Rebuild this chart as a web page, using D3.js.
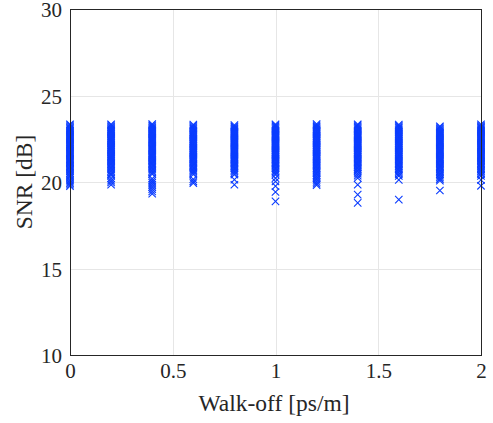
<!DOCTYPE html>
<html>
<head>
<meta charset="utf-8">
<script src="https://cdn.jsdelivr.net/npm/d3@7"></script>
<style>
  html, body { margin: 0; padding: 0; background: #fff; }
  svg { display: block; }
  text { font-family: "Liberation Serif", "Times New Roman", serif; fill: #262626; }
</style>
</head>
<body>
<svg id="chart" width="493" height="423"></svg>
<script>
// Walk-off values (ps/m) at which the SNR was evaluated
const walkOff = [0, 0.2, 0.4, 0.6, 0.8, 1.0, 1.2, 1.4, 1.6, 1.8, 2.0];

// SNR samples (dB) for each walk-off value
const snr00 = [23.34,23.27,23.20,23.13,23.06,22.99,22.93,22.86,22.80,22.73,22.66,22.60,22.53,22.47,22.40,22.33,22.27,22.20,22.14,22.07,22.00,21.94,21.87,21.81,21.74,21.67,21.61,21.54,21.48,21.41,21.34,21.28,21.21,21.15,21.08,21.01,20.93,20.86,20.78,20.70,20.61,20.53,20.44,20.35,20.25,20.12,20.02,19.93,19.85,19.76];
const snr02 = [23.34,23.27,23.20,23.14,23.07,23.01,22.94,22.88,22.81,22.75,22.68,22.62,22.55,22.49,22.42,22.36,22.29,22.23,22.16,22.10,22.03,21.97,21.90,21.84,21.77,21.71,21.64,21.58,21.51,21.45,21.38,21.32,21.25,21.19,21.12,21.05,20.97,20.89,20.81,20.73,20.64,20.55,20.46,20.38,20.21,20.08,19.97,19.84];
const snr04 = [23.35,23.28,23.22,23.15,23.09,23.02,22.95,22.89,22.82,22.76,22.69,22.62,22.56,22.49,22.43,22.36,22.29,22.23,22.16,22.10,22.03,21.96,21.90,21.83,21.77,21.70,21.63,21.57,21.50,21.44,21.37,21.30,21.24,21.17,21.10,21.03,20.96,20.88,20.80,20.72,20.63,20.54,20.46,20.19,20.07,19.96,19.84,19.71,19.58,19.45,19.32];
const snr06 = [23.32,23.25,23.18,23.11,23.04,22.97,22.90,22.84,22.77,22.71,22.64,22.58,22.51,22.45,22.38,22.32,22.25,22.19,22.12,22.06,21.99,21.93,21.86,21.80,21.73,21.67,21.60,21.54,21.47,21.41,21.34,21.28,21.21,21.14,21.07,21.00,20.93,20.85,20.77,20.69,20.61,20.53,20.44,20.16,20.04,19.94];
const snr08 = [23.29,23.22,23.16,23.09,23.03,22.96,22.90,22.83,22.77,22.70,22.64,22.57,22.51,22.44,22.38,22.31,22.25,22.18,22.12,22.05,21.99,21.92,21.86,21.79,21.73,21.66,21.60,21.53,21.47,21.40,21.34,21.27,21.21,21.14,21.07,21.00,20.93,20.86,20.78,20.70,20.62,20.53,20.43,20.14,19.84];
const snr10 = [23.34,23.27,23.20,23.13,23.06,22.99,22.92,22.85,22.78,22.72,22.65,22.59,22.52,22.46,22.39,22.33,22.26,22.20,22.13,22.07,22.00,21.94,21.87,21.81,21.74,21.68,21.61,21.55,21.48,21.42,21.35,21.29,21.22,21.15,21.08,21.01,20.94,20.86,20.78,20.70,20.61,20.52,20.42,20.22,20.03,19.76,19.42,18.88];
const snr12 = [23.35,23.28,23.21,23.14,23.07,23.01,22.94,22.88,22.81,22.75,22.68,22.62,22.55,22.49,22.42,22.36,22.29,22.23,22.16,22.10,22.03,21.97,21.90,21.84,21.77,21.71,21.64,21.58,21.51,21.45,21.38,21.32,21.25,21.18,21.11,21.04,20.97,20.90,20.82,20.74,20.66,20.58,20.50,20.41,20.32,20.22,20.12,20.01,19.90,19.82];
const snr14 = [23.34,23.27,23.20,23.13,23.06,22.99,22.92,22.85,22.78,22.72,22.65,22.59,22.52,22.46,22.39,22.33,22.26,22.20,22.13,22.07,22.00,21.94,21.87,21.81,21.74,21.68,21.61,21.55,21.48,21.42,21.35,21.28,21.21,21.14,21.07,21.00,20.93,20.85,20.77,20.68,20.60,20.48,20.36,20.23,19.84,19.27,18.79];
const snr16 = [23.32,23.25,23.18,23.12,23.05,22.99,22.92,22.86,22.79,22.73,22.66,22.60,22.53,22.47,22.40,22.34,22.27,22.21,22.14,22.08,22.01,21.95,21.88,21.82,21.75,21.69,21.62,21.56,21.49,21.43,21.36,21.30,21.23,21.16,21.09,21.02,20.95,20.88,20.80,20.72,20.64,20.55,20.45,20.35,20.12,18.98];
const snr18 = [23.22,23.16,23.09,23.03,22.96,22.90,22.83,22.77,22.70,22.64,22.57,22.51,22.44,22.38,22.31,22.25,22.18,22.12,22.05,21.99,21.92,21.86,21.79,21.73,21.66,21.60,21.53,21.47,21.40,21.34,21.27,21.21,21.14,21.07,21.00,20.93,20.86,20.79,20.71,20.63,20.55,20.46,20.37,20.27,20.17,20.08,19.51];
const snr20 = [23.33,23.26,23.19,23.13,23.06,23.00,22.93,22.87,22.80,22.74,22.67,22.61,22.54,22.48,22.41,22.35,22.28,22.22,22.15,22.09,22.02,21.96,21.89,21.83,21.76,21.70,21.63,21.57,21.50,21.44,21.37,21.31,21.24,21.17,21.10,21.03,20.96,20.88,20.80,20.72,20.63,20.54,20.45,20.35,20.12,19.78];

const snrSeries = [snr00, snr02, snr04, snr06, snr08, snr10, snr12, snr14, snr16, snr18, snr20];

// Axis ticks
const xTicks = [0, 0.5, 1, 1.5, 2];
const yTicks = [10, 15, 20, 25, 30];

const svg = d3.select("#chart");
const plotLeft = 70, plotRight = 481, plotTop = 9, plotBottom = 355;

const x = d3.scaleLinear().domain([0, 2]).range([plotLeft, plotRight]);
const y = d3.scaleLinear().domain([10, 30]).range([plotBottom, plotTop]);

// Grid lines
const grid = svg.append("g").attr("stroke", "#e6e6e6").attr("stroke-width", 1);
grid.selectAll("line.gx").data(xTicks).join("line")
  .attr("x1", d => Math.round(x(d)) + 0.5).attr("x2", d => Math.round(x(d)) + 0.5)
  .attr("y1", plotTop).attr("y2", plotBottom);
grid.selectAll("line.gy").data(yTicks).join("line")
  .attr("y1", d => Math.round(y(d)) + 0.5).attr("y2", d => Math.round(y(d)) + 0.5)
  .attr("x1", plotLeft).attr("x2", plotRight);

// Scatter of x markers
const points = walkOff.flatMap((w, i) => snrSeries[i].map(v => ({ w, v })));
const s = 3.7;
svg.append("g")
  .attr("fill", "none")
  .attr("stroke", "#0a3cff")
  .attr("stroke-width", 1.1)
  .selectAll("path").data(points).join("path")
  .attr("transform", d => `translate(${x(d.w)},${y(d.v)})`)
  .attr("d", `M${-s},${-s}L${s},${s}M${-s},${s}L${s},${-s}`);

// Axes
const xAxis = d3.axisBottom(x).tickValues(xTicks).tickSize(0).tickPadding(8)
  .tickFormat(d3.format("~g"));
const yAxis = d3.axisLeft(y).tickValues(yTicks).tickSize(0).tickPadding(8)
  .tickFormat(d3.format("~g"));

const gx = svg.append("g").attr("transform", `translate(0,${plotBottom})`).call(xAxis);
const gy = svg.append("g").attr("transform", `translate(${plotLeft},0)`).call(yAxis);
[gx, gy].forEach(g => {
  g.select(".domain").remove();
  g.selectAll("text").attr("font-size", 21).attr("fill", "#262626")
    .style("font-family", '"Liberation Serif", "Times New Roman", serif');
});
gy.selectAll("text").attr("dy", "0.36em");

// Box around the plot area
svg.append("rect")
  .attr("x", plotLeft + 0.5).attr("y", plotTop + 0.5)
  .attr("width", plotRight - plotLeft).attr("height", plotBottom - plotTop)
  .attr("fill", "none").attr("stroke", "#262626").attr("stroke-width", 1);

// Axis labels
svg.append("text")
  .attr("x", 274).attr("y", 411)
  .attr("text-anchor", "middle").attr("font-size", 23.5)
  .text("Walk-off [ps/m]");
svg.append("text")
  .attr("transform", "translate(32,182) rotate(-90)")
  .attr("text-anchor", "middle").attr("font-size", 23.5)
  .text("SNR [dB]");
</script>
</body>
</html>
